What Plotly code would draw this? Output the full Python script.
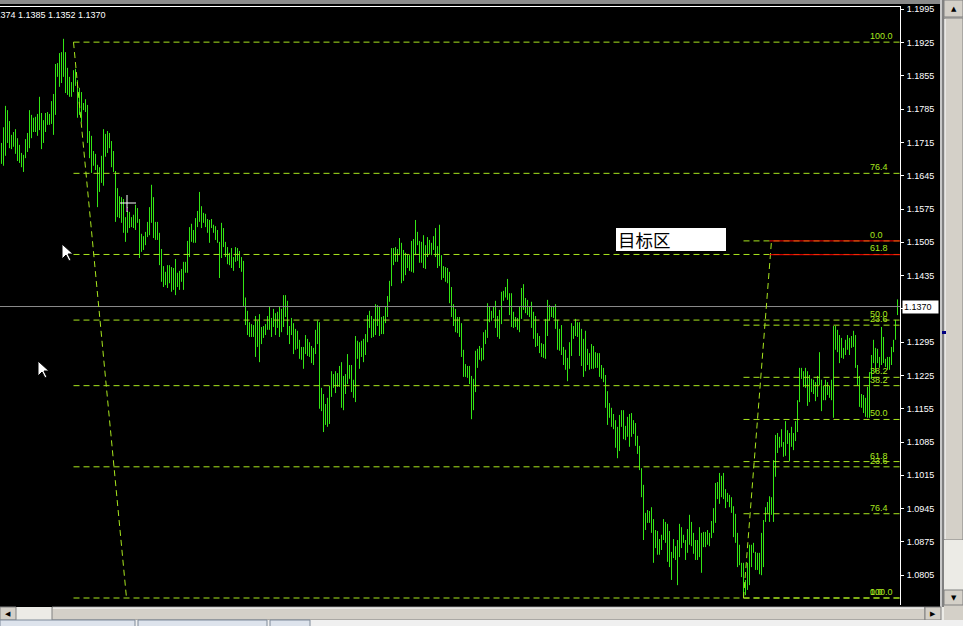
import plotly.graph_objects as go

# ---------------- data ----------------
highs = [
    1.1714, 1.1747, 1.1792, 1.1783, 1.1760, 1.1731, 1.1737, 1.1743, 1.1724, 1.1710,
    1.1693, 1.1689, 1.1722, 1.1735, 1.1783, 1.1773, 1.1767, 1.1769, 1.1775, 1.1811,
    1.1777, 1.1762, 1.1777, 1.1779, 1.1775, 1.1802, 1.1817, 1.1880, 1.1882, 1.1903,
    1.1905, 1.1933, 1.1905, 1.1872, 1.1853, 1.1842, 1.1867, 1.1870, 1.1846, 1.1830,
    1.1821, 1.1798, 1.1806, 1.1794, 1.1739, 1.1729, 1.1697, 1.1691, 1.1668, 1.1663,
    1.1687, 1.1743, 1.1733, 1.1739, 1.1735, 1.1718, 1.1697, 1.1655, 1.1619, 1.1602,
    1.1600, 1.1596, 1.1558, 1.1579, 1.1569, 1.1558, 1.1563, 1.1584, 1.1577, 1.1554,
    1.1523, 1.1518, 1.1527, 1.1548, 1.1579, 1.1626, 1.1600, 1.1548, 1.1548, 1.1525,
    1.1491, 1.1455, 1.1443, 1.1457, 1.1457, 1.1453, 1.1451, 1.1470, 1.1441, 1.1445,
    1.1449, 1.1464, 1.1464, 1.1508, 1.1537, 1.1544, 1.1531, 1.1556, 1.1571, 1.1611,
    1.1581, 1.1567, 1.1565, 1.1554, 1.1552, 1.1554, 1.1542, 1.1539, 1.1531, 1.1506,
    1.1546, 1.1535, 1.1506, 1.1495, 1.1483, 1.1493, 1.1474, 1.1495, 1.1493, 1.1487,
    1.1474, 1.1466, 1.1389, 1.1361, 1.1337, 1.1333, 1.1331, 1.1350, 1.1340, 1.1354,
    1.1327, 1.1329, 1.1333, 1.1350, 1.1369, 1.1346, 1.1365, 1.1356, 1.1359, 1.1369,
    1.1365, 1.1394, 1.1394, 1.1382, 1.1329, 1.1346, 1.1335, 1.1323, 1.1319, 1.1300,
    1.1285, 1.1285, 1.1310, 1.1302, 1.1295, 1.1287, 1.1283, 1.1321, 1.1340, 1.1337,
    1.1199, 1.1186, 1.1165, 1.1178, 1.1203, 1.1234, 1.1228, 1.1234, 1.1230, 1.1245,
    1.1253, 1.1224, 1.1228, 1.1270, 1.1247, 1.1247, 1.1216, 1.1308, 1.1298, 1.1295,
    1.1298, 1.1302, 1.1312, 1.1352, 1.1361, 1.1350, 1.1344, 1.1375, 1.1373, 1.1369,
    1.1348, 1.1350, 1.1369, 1.1392, 1.1424, 1.1493, 1.1493, 1.1495, 1.1491, 1.1514,
    1.1504, 1.1489, 1.1483, 1.1480, 1.1478, 1.1508, 1.1512, 1.1552, 1.1527, 1.1508,
    1.1506, 1.1520, 1.1499, 1.1516, 1.1510, 1.1504, 1.1518, 1.1535, 1.1497, 1.1542,
    1.1478, 1.1455, 1.1453, 1.1451, 1.1443, 1.1411, 1.1375, 1.1365, 1.1348, 1.1348,
    1.1335, 1.1279, 1.1249, 1.1245, 1.1245, 1.1224, 1.1218, 1.1277, 1.1281, 1.1287,
    1.1283, 1.1316, 1.1321, 1.1377, 1.1369, 1.1361, 1.1369, 1.1382, 1.1350, 1.1363,
    1.1401, 1.1403, 1.1411, 1.1428, 1.1398, 1.1398, 1.1359, 1.1348, 1.1346, 1.1371,
    1.1409, 1.1417, 1.1388, 1.1384, 1.1371, 1.1380, 1.1359, 1.1350, 1.1314, 1.1308,
    1.1293, 1.1291, 1.1344, 1.1384, 1.1373, 1.1369, 1.1371, 1.1375, 1.1342, 1.1323,
    1.1331, 1.1285, 1.1279, 1.1262, 1.1295, 1.1335, 1.1329, 1.1344, 1.1337, 1.1337,
    1.1323, 1.1302, 1.1319, 1.1281, 1.1272, 1.1291, 1.1287, 1.1274, 1.1272, 1.1272,
    1.1247, 1.1241, 1.1226, 1.1192, 1.1167, 1.1157, 1.1144, 1.1131, 1.1117, 1.1142,
    1.1152, 1.1152, 1.1119, 1.1138, 1.1144, 1.1146, 1.1131, 1.1125, 1.1098, 1.1077,
    1.1030, 1.0995, 1.0936, 1.0942, 1.0940, 1.0948, 1.0923, 1.0900, 1.0898, 1.0881,
    1.0890, 1.0923, 1.0917, 1.0913, 1.0898, 1.0854, 1.0881, 1.0866, 1.0879, 1.0913,
    1.0906, 1.0890, 1.0879, 1.0902, 1.0932, 1.0917, 1.0894, 1.0879, 1.0879, 1.0906,
    1.0894, 1.0896, 1.0896, 1.0900, 1.0894, 1.0919, 1.0946, 1.0999, 1.1001, 1.1020,
    1.1014, 1.1020, 1.0986, 1.0978, 1.0974, 1.0969, 1.0950, 1.0934, 1.0894, 1.0869,
    1.0831, 1.0831, 1.0795, 1.0831, 1.0869, 1.0869, 1.0873, 1.0854, 1.0852, 1.0852,
    1.0894, 1.0921, 1.0948, 1.0959, 1.0971, 1.0969, 1.1047, 1.1100, 1.1104, 1.1096,
    1.1112, 1.1085, 1.1129, 1.1110, 1.1104, 1.1117, 1.1104, 1.1129, 1.1173, 1.1241,
    1.1241, 1.1234, 1.1241, 1.1234, 1.1226, 1.1218, 1.1216, 1.1211, 1.1224, 1.1274,
    1.1216, 1.1203, 1.1216, 1.1211, 1.1203, 1.1216, 1.1329, 1.1329, 1.1321, 1.1310,
    1.1304, 1.1283, 1.1300, 1.1310, 1.1304, 1.1308, 1.1319, 1.1310, 1.1247, 1.1224,
    1.1186, 1.1184, 1.1178, 1.1201, 1.1232, 1.1268, 1.1300, 1.1283, 1.1281, 1.1264,
    1.1327, 1.1306, 1.1260, 1.1264, 1.1264, 1.1285, 1.1300, 1.1342, 1.1385,
]
lows = [
    1.1670, 1.1666, 1.1687, 1.1714, 1.1703, 1.1701, 1.1706, 1.1691, 1.1676, 1.1672,
    1.1663, 1.1653, 1.1682, 1.1695, 1.1703, 1.1724, 1.1737, 1.1737, 1.1729, 1.1741,
    1.1701, 1.1714, 1.1737, 1.1752, 1.1752, 1.1754, 1.1731, 1.1773, 1.1853, 1.1832,
    1.1840, 1.1853, 1.1819, 1.1815, 1.1811, 1.1811, 1.1821, 1.1834, 1.1767, 1.1773,
    1.1758, 1.1783, 1.1779, 1.1714, 1.1682, 1.1651, 1.1666, 1.1657, 1.1579, 1.1611,
    1.1630, 1.1624, 1.1685, 1.1693, 1.1703, 1.1663, 1.1653, 1.1548, 1.1558, 1.1556,
    1.1546, 1.1525, 1.1506, 1.1525, 1.1535, 1.1537, 1.1535, 1.1531, 1.1546, 1.1472,
    1.1485, 1.1489, 1.1499, 1.1516, 1.1520, 1.1546, 1.1514, 1.1510, 1.1510, 1.1457,
    1.1422, 1.1411, 1.1415, 1.1409, 1.1419, 1.1401, 1.1405, 1.1394, 1.1411, 1.1405,
    1.1422, 1.1405, 1.1441, 1.1441, 1.1474, 1.1506, 1.1504, 1.1504, 1.1537, 1.1548,
    1.1535, 1.1546, 1.1537, 1.1525, 1.1504, 1.1535, 1.1525, 1.1510, 1.1504, 1.1430,
    1.1472, 1.1495, 1.1474, 1.1459, 1.1457, 1.1451, 1.1445, 1.1464, 1.1466, 1.1451,
    1.1443, 1.1369, 1.1331, 1.1310, 1.1306, 1.1306, 1.1306, 1.1264, 1.1285, 1.1253,
    1.1291, 1.1304, 1.1310, 1.1321, 1.1321, 1.1306, 1.1327, 1.1310, 1.1325, 1.1306,
    1.1316, 1.1327, 1.1348, 1.1310, 1.1291, 1.1310, 1.1270, 1.1279, 1.1281, 1.1260,
    1.1258, 1.1239, 1.1270, 1.1266, 1.1264, 1.1251, 1.1247, 1.1270, 1.1291, 1.1155,
    1.1150, 1.1106, 1.1121, 1.1117, 1.1123, 1.1180, 1.1199, 1.1188, 1.1201, 1.1201,
    1.1157, 1.1152, 1.1186, 1.1207, 1.1218, 1.1190, 1.1178, 1.1169, 1.1260, 1.1239,
    1.1264, 1.1253, 1.1268, 1.1295, 1.1325, 1.1304, 1.1306, 1.1310, 1.1329, 1.1308,
    1.1312, 1.1312, 1.1335, 1.1348, 1.1380, 1.1413, 1.1457, 1.1464, 1.1464, 1.1478,
    1.1419, 1.1424, 1.1436, 1.1451, 1.1445, 1.1443, 1.1441, 1.1478, 1.1499, 1.1462,
    1.1462, 1.1451, 1.1449, 1.1474, 1.1480, 1.1478, 1.1489, 1.1474, 1.1451, 1.1455,
    1.1426, 1.1430, 1.1422, 1.1419, 1.1377, 1.1348, 1.1329, 1.1316, 1.1314, 1.1306,
    1.1264, 1.1222, 1.1222, 1.1220, 1.1207, 1.1133, 1.1152, 1.1190, 1.1241, 1.1258,
    1.1255, 1.1258, 1.1291, 1.1304, 1.1337, 1.1340, 1.1346, 1.1325, 1.1306, 1.1302,
    1.1333, 1.1382, 1.1389, 1.1384, 1.1352, 1.1327, 1.1325, 1.1327, 1.1321, 1.1316,
    1.1344, 1.1363, 1.1356, 1.1352, 1.1348, 1.1325, 1.1302, 1.1285, 1.1287, 1.1272,
    1.1264, 1.1262, 1.1260, 1.1308, 1.1340, 1.1348, 1.1346, 1.1323, 1.1279, 1.1277,
    1.1268, 1.1247, 1.1237, 1.1213, 1.1239, 1.1266, 1.1302, 1.1308, 1.1306, 1.1266,
    1.1245, 1.1222, 1.1234, 1.1247, 1.1237, 1.1239, 1.1239, 1.1241, 1.1241, 1.1222,
    1.1218, 1.1211, 1.1157, 1.1121, 1.1136, 1.1117, 1.1112, 1.1073, 1.1051, 1.1066,
    1.1117, 1.1091, 1.1089, 1.1096, 1.1075, 1.1096, 1.1102, 1.1077, 1.1060, 1.1026,
    1.0969, 1.0879, 1.0900, 1.0915, 1.0915, 1.0894, 1.0831, 1.0862, 1.0848, 1.0848,
    1.0858, 1.0879, 1.0873, 1.0833, 1.0822, 1.0795, 1.0841, 1.0837, 1.0784, 1.0843,
    1.0862, 1.0873, 1.0837, 1.0852, 1.0869, 1.0866, 1.0850, 1.0837, 1.0837, 1.0843,
    1.0810, 1.0864, 1.0864, 1.0869, 1.0866, 1.0883, 1.0894, 1.0915, 1.0965, 1.0955,
    1.0969, 1.0965, 1.0946, 1.0959, 1.0948, 1.0936, 1.0885, 1.0873, 1.0822, 1.0826,
    1.0801, 1.0759, 1.0763, 1.0774, 1.0784, 1.0822, 1.0852, 1.0816, 1.0816, 1.0807,
    1.0805, 1.0822, 1.0917, 1.0936, 1.0917, 1.0932, 1.0917, 1.1012, 1.1062, 1.1073,
    1.1075, 1.1054, 1.1056, 1.1081, 1.1045, 1.1075, 1.1068, 1.1087, 1.1106, 1.1169,
    1.1218, 1.1201, 1.1199, 1.1161, 1.1169, 1.1190, 1.1186, 1.1171, 1.1180, 1.1205,
    1.1150, 1.1173, 1.1173, 1.1184, 1.1178, 1.1173, 1.1136, 1.1279, 1.1274, 1.1251,
    1.1262, 1.1260, 1.1268, 1.1279, 1.1268, 1.1283, 1.1285, 1.1241, 1.1205, 1.1159,
    1.1157, 1.1146, 1.1138, 1.1136, 1.1136, 1.1218, 1.1251, 1.1232, 1.1251, 1.1241,
    1.1247, 1.1251, 1.1243, 1.1237, 1.1237, 1.1247, 1.1274, 1.1300, 1.1352,
]
last_open = 1.1374
last_close = 1.1370

# Fibonacci objects: anchor A (100 %) and anchor B (0 %)  -> (bar index, price)
fib1_time = [36, 62.5]
fib1_price = [1.1926, 1.0757]
fib2_time = [371, 385]
fib2_price = [1.0757, 1.1508]
fib_ratios = [0.0, 0.236, 0.382, 0.5, 0.618, 0.764, 1.0]
fib_labels = ["0.0", "23.6", "38.2", "50.0", "61.8", "76.4", "100.0"]

# target zone (red lines) and its text label
target_prices = [1.1508, 1.1479]
target_start = 384
target_text = "目标区"
target_box_time = [307.25, 362.25]
target_box_price = [1.1487, 1.1535]

ytick_vals = [1.0805, 1.0875, 1.0945, 1.1015, 1.1085, 1.1155, 1.1225, 1.1295, 1.1365,
              1.1435, 1.1505, 1.1575, 1.1645, 1.1715, 1.1785, 1.1855, 1.1925, 1.1995]

# ---------------- styling ----------------
BAR_C = "#33e614"
FIB_C = "#a8e61e"
W, H = 963, 626
ML, MR, MT, MB = 0, 63, 7, 21
PW, PH = W - ML - MR, H - MT - MB
n = min(len(highs), len(lows))
XR = [-0.75, n + 0.25]
YR = [1.07423, 1.19999]


def px(x):
    return (x - ML) / PW


def py(y):
    return (H - MB - y) / PH


fig = go.Figure()

# bars (high-low sticks)
bx, by = [], []
for i in range(n):
    bx += [i, i, None]
    by += [lows[i], highs[i], None]
fig.add_trace(go.Scatter(x=bx, y=by, mode="lines", line=dict(color=BAR_C, width=1),
                         hoverinfo="skip", showlegend=False))

# current price line
fig.add_trace(go.Scatter(x=XR, y=[last_close, last_close], mode="lines",
                         line=dict(color="#8c8c8c", width=1), hoverinfo="skip",
                         showlegend=False))


def fib_traces(t, p):
    a_p, b_p = p
    lx, ly = [], []
    for r in fib_ratios:
        lv = b_p + r * (a_p - b_p)
        lx += [t[0], XR[1], None]
        ly += [lv, lv, None]
    fig.add_trace(go.Scatter(x=lx, y=ly, mode="lines",
                             line=dict(color=FIB_C, width=1, dash="6px,4px"),
                             hoverinfo="skip", showlegend=False))
    fig.add_trace(go.Scatter(x=t, y=p, mode="lines",
                             line=dict(color=FIB_C, width=1, dash="6px,4px"),
                             hoverinfo="skip", showlegend=False))


fib_traces(fib1_time, fib1_price)
fib_traces(fib2_time, fib2_price)

# red target lines
rx, ry = [], []
for tp in target_prices:
    rx += [target_start, XR[1], None]
    ry += [tp, tp, None]
fig.add_trace(go.Scatter(x=rx, y=ry, mode="lines", line=dict(color="#ff0000", width=1),
                         hoverinfo="skip", showlegend=False))

annotations = []
# fib labels
for (t, p) in [(fib1_time, fib1_price), (fib2_time, fib2_price)]:
    for r, lab in zip(fib_ratios, fib_labels):
        lv = p[1] + r * (p[0] - p[1])
        annotations.append(dict(x=px(869), xref="paper", xanchor="left", y=lv, yref="y",
                                yanchor="bottom", text=lab, showarrow=False, borderpad=0,
                                font=dict(family="Liberation Sans", size=9, color=FIB_C)))

# target label box + text
shapes = []
shapes.append(dict(type="rect", xref="x", yref="y", x0=target_box_time[0], x1=target_box_time[1],
                   y0=target_box_price[0], y1=target_box_price[1], fillcolor="white",
                   line=dict(width=0), layer="above"))
annotations.append(dict(x=target_box_time[0] + 0.5, xref="x", xanchor="left",
                        y=(target_box_price[0] + target_box_price[1]) / 2, yref="y",
                        yanchor="middle", text=target_text, showarrow=False, borderpad=0,
                        font=dict(family="Noto Sans CJK SC", size=17.5, color="black")))

# header OHLC text
annotations.append(dict(x=px(107), xref="paper", xanchor="right", y=py(15), yref="paper",
                        yanchor="middle", showarrow=False, borderpad=0,
                        text=f"{last_open:.4f} {highs[n-1]:.4f} {lows[n-1]:.4f} {last_close:.4f}",
                        font=dict(family="Liberation Sans", size=9, color="white")))

# current price box on axis
annotations.append(dict(x=px(902), xref="paper", xanchor="left", y=last_close, yref="y",
                        yanchor="middle", text=f"{last_close:.4f}", showarrow=False,
                        bgcolor="white", borderpad=1, width=33, height=10, align="left",
                        font=dict(family="Liberation Sans", size=9, color="black")))


def rect_px(x0, y0, x1, y1, fill, line=None):
    d = dict(type="rect", xref="paper", yref="paper", x0=px(x0), x1=px(x1),
             y0=py(y1), y1=py(y0), fillcolor=fill, layer="above",
             line=dict(width=0) if line is None else line)
    shapes.append(d)


def seg_px(x0, y0, x1, y1, color):
    shapes.append(dict(type="line", xref="paper", yref="paper", x0=px(x0), x1=px(x1),
                       y0=py(y0), y1=py(y1), line=dict(color=color, width=1), layer="above"))


def path_px(pts, fill, lc):
    s = "M " + " L ".join(f"{px(a):.5f},{py(b):.5f}" for a, b in pts) + " Z"
    shapes.append(dict(type="path", xref="paper", yref="paper", path=s, fillcolor=fill,
                       line=dict(color=lc, width=1), layer="above"))


# window chrome
rect_px(0, 0, 943, 4, "#8a8a8a")
rect_px(941, 0, 944, 4, "#000080")
rect_px(940, 0, 942, 607, "#c8c8c8")
rect_px(942, 0, 944, 607, "#808080")
rect_px(944, 0, 963, 620, "#d4d0c8")
rect_px(944, 0, 963, 17, "#d4d0c8", dict(color="#808080", width=1))
rect_px(944, 18, 963, 540, "#d4d0c8", dict(color="#808080", width=1))
seg_px(945, 19, 945, 539, "white")
rect_px(944, 540, 963, 590, "#ecebe6")
rect_px(944, 590, 963, 605, "#d4d0c8", dict(color="#808080", width=1))
rect_px(942, 331, 946, 334, "#000080")
rect_px(0, 607, 944, 620, "#ecebe6")
rect_px(0, 607, 16, 620, "#d4d0c8", dict(color="#808080", width=1))
rect_px(52, 607, 925, 620, "#d4d0c8", dict(color="#808080", width=1))
seg_px(53, 608, 924, 608, "white")
rect_px(925, 607, 941, 620, "#d4d0c8", dict(color="#808080", width=1))
rect_px(0, 620, 963, 626, "#f0f0f0")
rect_px(0, 620, 135, 627, "#dde3ec", dict(color="#7f8a99", width=1))
rect_px(138, 620, 267, 627, "#dde3ec", dict(color="#7f8a99", width=1))
rect_px(270, 620, 310, 627, "#dde3ec", dict(color="#7f8a99", width=1))

for sym, xx, yy in [("▲", 953.5, 9), ("▼", 953.5, 598), ("◀", 8, 614), ("▶", 933, 614)]:
    annotations.append(dict(x=px(xx), xref="paper", xanchor="center", y=py(yy), yref="paper",
                            yanchor="middle", text=sym, showarrow=False, borderpad=0,
                            font=dict(family="DejaVu Sans", size=7, color="black")))

# crosshair cursor and two mouse pointers
seg_px(120, 203, 136, 203, "white")
seg_px(127, 195, 127, 212, "white")
seg_px(127, 208, 127, 211, "#c000c0")
arrow = [(0, 0), (0, 15), (4, 11), (7, 17), (9, 16), (6, 10), (11, 10)]
for ox, oy in [(62, 244), (38, 361)]:
    path_px([(ox + a, oy + b) for a, b in arrow], "white", "black")

fig.update_layout(
    width=W, height=H, margin=dict(l=ML, r=MR, t=MT, b=MB, pad=0),
    paper_bgcolor="black", plot_bgcolor="black", showlegend=False,
    xaxis=dict(range=XR, side="top", showline=True, linecolor="white", linewidth=1,
               showticklabels=False, ticks="", showgrid=False, zeroline=False, fixedrange=True),
    yaxis=dict(range=YR, side="right", showline=True, linecolor="white", linewidth=1,
               ticks="outside", ticklen=3, tickcolor="white", tickwidth=1,
               tickvals=ytick_vals, tickformat=".4f", showgrid=False, zeroline=False,
               tickfont=dict(family="Liberation Sans", size=9, color="white"),
               ticklabelstandoff=1, fixedrange=True),
    shapes=shapes, annotations=annotations,
)

fig.write_html("out.html", config={"displayModeBar": False},
               post_script="document.body.style.margin='0px';document.body.style.overflow='hidden';")
